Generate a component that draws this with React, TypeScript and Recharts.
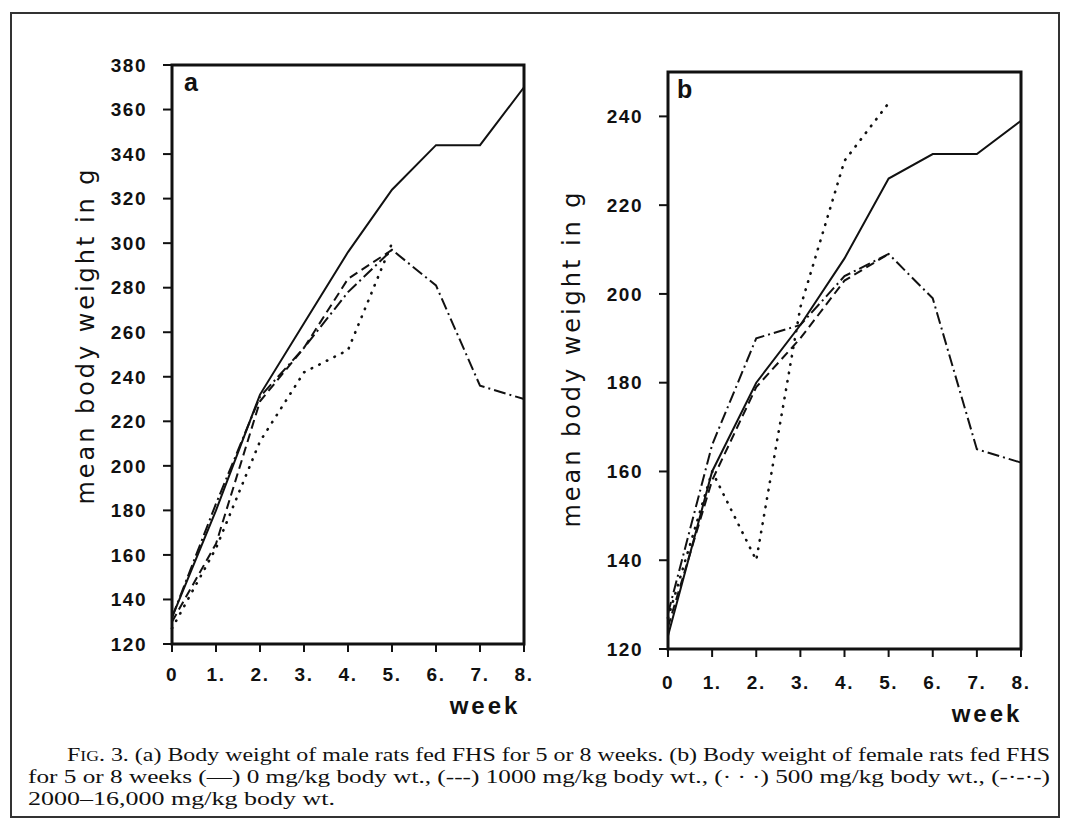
import { LineChart, Line, XAxis, YAxis, ReferenceArea, Label } from 'recharts';

// weeks on the x axis (both panels)
const weeks = [0, 1, 2, 3, 4, 5, 6, 7, 8];

// panel a: male rats, mean body weight in g
const maleControl = [132, 180, 232, 264, 296, 324, 344, 344, 370];
const male1000 = [130, 165, 229, 253, 284, 297];
const male500 = [127, 163, 211, 242, 252, 300];
const maleHigh = [132, 183, 231, 253, 278, 297, 281, 236, 230];

// panel b: female rats, mean body weight in g
const femaleControl = [123, 160, 180, 193, 208, 226, 231.5, 231.5, 239];
const female1000 = [125, 158, 179, 190, 203, 209];
const female500 = [127, 160, 140, 197, 230, 243];
const femaleHigh = [128, 166, 190, 193, 204, 209, 199, 165, 162];

const maleTicks = [120, 140, 160, 180, 200, 220, 240, 260, 280, 300, 320, 340, 360, 380];
const femaleTicks = [120, 140, 160, 180, 200, 220, 240];

const captionLines = [
  '. 3. (a) Body weight of male rats fed FHS for 5 or 8 weeks. (b) Body weight of female rats fed FHS',
  'for 5 or 8 weeks (\u2014) 0 mg/kg body wt., (---) 1000 mg/kg body wt., (\u00b7 \u00b7 \u00b7) 500 mg/kg body wt., (-\u00b7-\u00b7-)',
  '2000\u201316,000 mg/kg body wt.',
];

const INK = '#111';
const SANS = '"Liberation Sans", Arial, sans-serif';
const SERIF = '"Liberation Serif", "Times New Roman", serif';

const buildRows = (control: number[], d1000: number[], d500: number[], high: number[]) =>
  weeks.map((w, i) => ({ week: w, control: control[i], d1000: d1000[i], d500: d500[i], high: high[i] }));

const maleRows = buildRows(maleControl, male1000, male500, maleHigh);
const femaleRows = buildRows(femaleControl, female1000, female500, femaleHigh);

const series = [
  { key: 'control', dash: undefined as string | undefined, cap: 'butt', width: 2 },
  { key: 'd1000', dash: '9 5', cap: 'butt', width: 2 },
  { key: 'd500', dash: '0.5 8', cap: 'round', width: 2.6 },
  { key: 'high', dash: '12 4 2 4', cap: 'butt', width: 2 },
];

const tickStyle = { fill: INK, fontSize: 19, fontWeight: 700, fontFamily: SANS, letterSpacing: 1.5 };

interface PanelProps {
  rows: any[];
  domain: [number, number];
  ticks: number[];
  margin: { top: number; right: number; bottom: number; left: number };
  yWidth: number;
  xTickMargin: number;
  letter: string;
  letterPos: [number, number];
  yLabelPos: [number, number];
  weekPos: [number, number];
}

function Panel({ rows, domain, ticks, margin, yWidth, xTickMargin, letter, letterPos, yLabelPos, weekPos }: PanelProps) {
  return (
    <div style={{ position: 'absolute', left: 0, top: 0 }}>
      <LineChart width={1072} height={822} data={rows} margin={margin}>
        <XAxis
          type="number"
          dataKey="week"
          domain={[0, 8]}
          ticks={weeks}
          interval={0}
          height={50}
          tickSize={8}
          tickMargin={xTickMargin}
          axisLine={false}
          tickLine={{ stroke: INK, strokeWidth: 2 }}
          tick={tickStyle}
          tickFormatter={(v: number) => (v === 0 ? '0' : `${v}.`)}
        >
          <Label
            content={() => (
              <text x={weekPos[0]} y={weekPos[1]} textAnchor="middle" dominantBaseline="central"
                fill={INK} fontSize={24} fontWeight={700} fontFamily={SANS} letterSpacing={3}>
                week
              </text>
            )}
          />
        </XAxis>
        <YAxis
          type="number"
          domain={domain}
          ticks={ticks}
          interval={0}
          width={yWidth}
          tickSize={9}
          tickMargin={16}
          axisLine={false}
          tickLine={{ stroke: INK, strokeWidth: 2 }}
          tick={tickStyle}
          allowDataOverflow
        >
          <Label
            content={() => (
              <text x={yLabelPos[0]} y={yLabelPos[1]} transform={`rotate(-90 ${yLabelPos[0]} ${yLabelPos[1]})`}
                textAnchor="middle" dominantBaseline="central" fill={INK} fontSize={24}
                fontFamily={'"DejaVu Sans", sans-serif'} textLength={335} lengthAdjust="spacing">
                mean body weight in g
              </text>
            )}
          />
        </YAxis>
        {series.map((s) => (
          <Line
            key={s.key}
            type="linear"
            dataKey={s.key}
            stroke={INK}
            strokeWidth={s.width}
            strokeDasharray={s.dash}
            strokeLinecap={s.cap as any}
            dot={false}
            activeDot={false}
            isAnimationActive={false}
          />
        ))}
        <ReferenceArea x1={0} x2={8} y1={domain[0]} y2={domain[1]} fill="none" stroke={INK} strokeWidth={3} ifOverflow="visible">
          <Label
            content={() => (
              <text x={letterPos[0]} y={letterPos[1]} fill={INK} fontSize={25} fontWeight={700} fontFamily={SANS}>
                {letter}
              </text>
            )}
          />
        </ReferenceArea>
      </LineChart>
    </div>
  );
}

export default function App() {
  return (
    <div style={{ position: 'absolute', left: 0, top: 0, width: 1072, height: 822, background: '#fff' }}>
      <div style={{ position: 'absolute', left: 10, top: 12, width: 1050, height: 806, border: '2px solid #333', boxSizing: 'border-box' }} />
      <Panel
        rows={maleRows}
        domain={[120, 380]}
        ticks={maleTicks}
        margin={{ top: 65, right: 548, bottom: 128, left: 0 }}
        yWidth={172}
        xTickMargin={16}
        letter="a"
        letterPos={[184, 91]}
        yLabelPos={[86, 337]}
        weekPos={[485, 705]}
      />
      <Panel
        rows={femaleRows}
        domain={[120, 250]}
        ticks={femaleTicks}
        margin={{ top: 72, right: 51, bottom: 123, left: 480 }}
        yWidth={188}
        xTickMargin={19}
        letter="b"
        letterPos={[677, 98]}
        yLabelPos={[572, 360]}
        weekPos={[987, 713]}
      />
      <svg width={1072} height={822} style={{ position: 'absolute', left: 0, top: 0 }}>
        <text x={67} y={761} fill={INK} fontSize={19} fontFamily={SERIF} textLength={983} lengthAdjust="spacingAndGlyphs">
          <tspan>F</tspan>
          <tspan fontSize={14}>IG</tspan>
          <tspan>{captionLines[0]}</tspan>
        </text>
        <text x={28} y={783} fill={INK} fontSize={19} fontFamily={SERIF} textLength={1022} lengthAdjust="spacingAndGlyphs">
          {captionLines[1]}
        </text>
        <text x={28} y={805} fill={INK} fontSize={19} fontFamily={SERIF} textLength={307} lengthAdjust="spacingAndGlyphs">
          {captionLines[2]}
        </text>
      </svg>
    </div>
  );
}
